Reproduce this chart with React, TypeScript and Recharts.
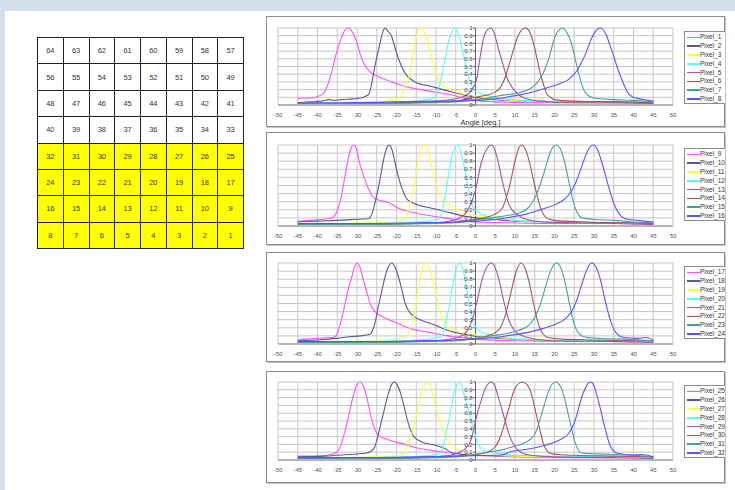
import { CartesianGrid, Line, LineChart, ReferenceDot, ReferenceLine, XAxis, YAxis } from 'recharts';

type Pt = [number, number];

const xTicks = [-50, -45, -40, -35, -30, -25, -20, -15, -10, -5, 0, 5, 10, 15, 20, 25, 30, 35, 40, 45, 50];
const yTicks = [0, 0.1, 0.2, 0.3, 0.4, 0.5, 0.6, 0.7, 0.8, 0.9, 1];
const yTickLabels = ['0', '0.1', '0.2', '0.3', '0.4', '0.5', '0.6', '0.7', '0.8', '0.9', '1'];

// excel-ish series colours, a bit lighter since the source lines are blurred
const seriesColors = ['#ff50ff', '#58589c', '#ffff38', '#50ffff', '#a850a8', '#a85454', '#44a0a0', '#5656ff'];

const gridRows = [
  [64, 63, 62, 61, 60, 59, 58, 57],
  [56, 55, 54, 53, 52, 51, 50, 49],
  [48, 47, 46, 45, 44, 43, 42, 41],
  [40, 39, 38, 37, 36, 35, 34, 33],
  [32, 31, 30, 29, 28, 27, 26, 25],
  [24, 23, 22, 21, 20, 19, 18, 17],
  [16, 15, 14, 13, 12, 11, 10, 9],
  [8, 7, 6, 5, 4, 3, 2, 1],
];

// ---- panel 1 : Pixel_1 .. Pixel_8
const p1: Pt[] = [[-45, 0.08], [-44, 0.09], [-42, 0.09], [-40, 0.11], [-38.5, 0.15], [-37.5, 0.25], [-36.4, 0.43], [-35.3, 0.66], [-34.3, 0.82], [-33.2, 0.96], [-32.2, 1], [-31.2, 0.95], [-30.1, 0.82], [-28.8, 0.6], [-27.1, 0.45], [-24.6, 0.37], [-21.2, 0.3], [-17.8, 0.24], [-12.8, 0.19], [-6, 0.13], [-1, 0.065], [5, 0.04], [15, 0.03], [30, 0.03], [45, 0.02]];
const p2: Pt[] = [[-45, 0.03], [-42, 0.04], [-39, 0.05], [-37, 0.07], [-36, 0.06], [-34, 0.07], [-31, 0.08], [-29, 0.09], [-28, 0.11], [-27, 0.14], [-26.2, 0.3], [-25.4, 0.52], [-24.1, 0.82], [-23.4, 0.96], [-22.9, 1], [-22.2, 0.96], [-21.3, 0.9], [-20.4, 0.75], [-19.5, 0.6], [-17.8, 0.41], [-15.3, 0.3], [-11.1, 0.24], [-6, 0.17], [-1, 0.11], [3, 0.08], [8, 0.06], [15, 0.05], [25, 0.04], [35, 0.04], [45, 0.03]];
const p3: Pt[] = [[-45, 0.02], [-35, 0.03], [-28, 0.04], [-23, 0.05], [-20, 0.07], [-18.7, 0.13], [-17.8, 0.24], [-17, 0.34], [-16, 0.58], [-15.3, 0.82], [-14.5, 0.96], [-13.9, 1], [-13.2, 0.97], [-12.4, 0.9], [-11.5, 0.7], [-10.7, 0.52], [-9.8, 0.38], [-9.1, 0.3], [-7.5, 0.23], [-6, 0.19], [-2.7, 0.14], [0.7, 0.11], [5, 0.08], [10, 0.06], [20, 0.04], [30, 0.03], [45, 0.03]];
const p4: Pt[] = [[-45, 0.02], [-30, 0.03], [-20, 0.04], [-15, 0.05], [-12, 0.07], [-10.3, 0.1], [-9.3, 0.22], [-8.2, 0.47], [-7.4, 0.68], [-6.6, 0.86], [-5.8, 0.97], [-5.1, 1], [-4.4, 0.93], [-3.6, 0.78], [-2.8, 0.6], [-1.9, 0.39], [-1, 0.26], [-0.3, 0.19], [1, 0.16], [2.2, 0.14], [5, 0.1], [8, 0.08], [12, 0.06], [20, 0.04], [30, 0.03], [45, 0.03]];
const p5: Pt[] = [[-45, 0.02], [-30, 0.02], [-20, 0.03], [-12, 0.04], [-8, 0.06], [-5, 0.08], [-3.1, 0.11], [-1, 0.19], [0.3, 0.34], [1.1, 0.6], [2, 0.86], [2.9, 0.97], [3.8, 1], [4.7, 0.94], [5.8, 0.73], [7, 0.52], [7.9, 0.36], [8.7, 0.28], [10, 0.18], [11.5, 0.11], [13, 0.08], [16, 0.05], [25, 0.03], [35, 0.03], [45, 0.02]];
const p6: Pt[] = [[-45, 0.02], [-30, 0.02], [-15, 0.03], [-8, 0.04], [-4, 0.06], [-1, 0.09], [1, 0.11], [3, 0.13], [5, 0.17], [6.2, 0.22], [7.5, 0.36], [8.5, 0.52], [9.5, 0.7], [10.5, 0.86], [11.6, 0.97], [12.7, 1], [13.7, 0.95], [14.6, 0.82], [15.5, 0.62], [16.3, 0.43], [17.2, 0.27], [18, 0.15], [19, 0.1], [20, 0.07], [25, 0.05], [35, 0.04], [45, 0.03]];
const p7: Pt[] = [[-45, 0.02], [-25, 0.02], [-10, 0.03], [-3, 0.05], [0, 0.07], [3, 0.09], [6, 0.12], [8.7, 0.14], [11, 0.16], [13, 0.19], [15.5, 0.28], [17, 0.4], [18, 0.52], [19, 0.68], [19.7, 0.82], [20.9, 0.96], [22.1, 1], [23, 0.95], [23.9, 0.86], [24.8, 0.7], [25.6, 0.52], [26.6, 0.32], [27.7, 0.17], [29, 0.11], [30, 0.09], [35, 0.07], [40, 0.06], [45, 0.04]];
const p8: Pt[] = [[-45, 0.03], [-35, 0.03], [-20, 0.04], [-10, 0.05], [0, 0.06], [5, 0.08], [8.7, 0.11], [13, 0.15], [17.2, 0.21], [21.4, 0.28], [23.5, 0.33], [24.8, 0.39], [26, 0.47], [26.9, 0.56], [28, 0.68], [29, 0.82], [30.3, 0.95], [31.6, 1], [33.2, 0.9], [34, 0.78], [34.9, 0.65], [35.8, 0.5], [36.6, 0.39], [37.7, 0.25], [38.7, 0.15], [40, 0.1], [41, 0.086], [43.3, 0.065], [45, 0.05]];

// ---- panel 2 : Pixel_9 .. Pixel_16
const p9: Pt[] = [[-45, 0.06], [-42, 0.07], [-39, 0.08], [-36.6, 0.095], [-35.5, 0.14], [-34.9, 0.2], [-34, 0.36], [-33.2, 0.57], [-32.5, 0.76], [-31.9, 0.9], [-31.3, 0.98], [-30.8, 1], [-30.2, 0.96], [-29.3, 0.77], [-28, 0.57], [-27, 0.45], [-26.3, 0.38], [-24.6, 0.32], [-22, 0.29], [-19.5, 0.22], [-15.2, 0.16], [-9.2, 0.11], [-4.1, 0.074], [0, 0.05], [8, 0.04], [20, 0.03], [35, 0.03], [45, 0.02]];
const p10: Pt[] = [[-45, 0.05], [-40, 0.06], [-35, 0.07], [-31, 0.08], [-27, 0.09], [-26.5, 0.12], [-25.9, 0.2], [-25, 0.38], [-24.2, 0.57], [-23.5, 0.76], [-22.9, 0.9], [-22.3, 0.98], [-21.8, 1], [-21.2, 0.95], [-20.5, 0.81], [-19.7, 0.64], [-18.8, 0.49], [-17.1, 0.32], [-14.5, 0.26], [-11.1, 0.22], [-7.7, 0.18], [-2.6, 0.12], [0, 0.1], [5, 0.08], [10, 0.06], [20, 0.05], [35, 0.04], [45, 0.03]];
const p11: Pt[] = [[-45, 0.03], [-35, 0.03], [-25, 0.04], [-20, 0.05], [-18, 0.09], [-17.1, 0.18], [-16.3, 0.33], [-15.6, 0.49], [-14.5, 0.81], [-13.6, 0.97], [-12.8, 1], [-12.1, 0.95], [-11.4, 0.81], [-10.1, 0.53], [-8.8, 0.36], [-6.7, 0.26], [-4.1, 0.19], [-0.7, 0.14], [5, 0.1], [10, 0.07], [20, 0.05], [30, 0.04], [45, 0.03]];
const p12: Pt[] = [[-45, 0.02], [-30, 0.03], [-20, 0.04], [-12, 0.06], [-9.2, 0.09], [-8.4, 0.2], [-7.7, 0.36], [-6.5, 0.73], [-5.4, 0.96], [-4.5, 1], [-3.9, 0.95], [-3.2, 0.81], [-1.9, 0.49], [-0.7, 0.24], [1, 0.16], [3, 0.12], [6, 0.1], [10, 0.07], [20, 0.05], [30, 0.04], [45, 0.03]];
const p13: Pt[] = [[-45, 0.02], [-30, 0.02], [-15, 0.03], [-8, 0.05], [-4, 0.1], [-1.9, 0.2], [0, 0.44], [1.3, 0.75], [3, 0.96], [4, 1], [4.8, 0.95], [5.5, 0.84], [6.8, 0.55], [8.5, 0.26], [10.6, 0.14], [13, 0.08], [17, 0.05], [25, 0.04], [35, 0.03], [45, 0.02]];
const p14: Pt[] = [[-45, 0.02], [-30, 0.02], [-15, 0.03], [-5, 0.05], [0, 0.08], [3, 0.11], [5, 0.15], [6.8, 0.22], [8.5, 0.47], [10.2, 0.84], [11, 0.97], [11.7, 1], [12.5, 0.96], [13.5, 0.82], [15, 0.5], [16.5, 0.22], [18, 0.1], [20, 0.07], [28, 0.05], [38, 0.04], [45, 0.03]];
const p15: Pt[] = [[-45, 0.02], [-25, 0.02], [-10, 0.03], [-3, 0.05], [0, 0.07], [4, 0.1], [8, 0.13], [11, 0.16], [13, 0.21], [14.5, 0.3], [16, 0.46], [17.5, 0.68], [18.7, 0.88], [19.7, 0.98], [20.5, 1], [21.4, 0.96], [22.4, 0.82], [23.5, 0.58], [24.6, 0.33], [25.8, 0.16], [27, 0.1], [30, 0.08], [35, 0.07], [40, 0.05], [45, 0.04]];
const p16: Pt[] = [[-45, 0.03], [-30, 0.03], [-15, 0.04], [-5, 0.05], [0, 0.06], [5, 0.08], [9, 0.11], [13, 0.15], [17, 0.21], [20.5, 0.27], [22.5, 0.33], [24, 0.41], [25.5, 0.55], [27, 0.75], [28.3, 0.92], [29.8, 1], [31, 0.93], [32.2, 0.75], [33.5, 0.52], [35, 0.28], [36.5, 0.14], [38, 0.09], [41, 0.07], [45, 0.05]];

// ---- panel 3 : Pixel_17 .. Pixel_24
const p17: Pt[] = [[-45, 0.05], [-40.2, 0.07], [-36, 0.08], [-35.2, 0.11], [-34.7, 0.17], [-33.8, 0.33], [-33, 0.5], [-32.2, 0.68], [-31.3, 0.83], [-30.6, 0.96], [-30, 1], [-29.3, 0.96], [-28.4, 0.79], [-27.5, 0.64], [-26.7, 0.5], [-25, 0.38], [-23.3, 0.33], [-19.9, 0.26], [-16.5, 0.19], [-12.3, 0.15], [-8.1, 0.11], [-4, 0.08], [0, 0.06], [10, 0.04], [25, 0.03], [45, 0.03]];
const p18: Pt[] = [[-45, 0.04], [-40, 0.05], [-35, 0.07], [-31.8, 0.09], [-29.2, 0.1], [-26.7, 0.12], [-25.5, 0.25], [-24.6, 0.46], [-23.7, 0.66], [-22.9, 0.83], [-22, 0.96], [-21.2, 1], [-20.4, 0.95], [-19.5, 0.83], [-18.6, 0.66], [-17.8, 0.5], [-16.1, 0.36], [-14, 0.3], [-10.6, 0.24], [-7.2, 0.17], [-3, 0.12], [0, 0.1], [6, 0.07], [15, 0.05], [30, 0.04], [45, 0.03]];
const p19: Pt[] = [[-45, 0.03], [-35, 0.03], [-25, 0.04], [-20, 0.06], [-17.4, 0.09], [-16.5, 0.19], [-15.7, 0.33], [-14.4, 0.71], [-13.4, 0.94], [-12.5, 1], [-11.8, 0.95], [-11, 0.83], [-10.1, 0.64], [-9.3, 0.46], [-8.2, 0.3], [-7.2, 0.21], [-3, 0.14], [0, 0.11], [5, 0.08], [12, 0.06], [25, 0.04], [45, 0.03]];
const p20: Pt[] = [[-45, 0.02], [-30, 0.03], [-18, 0.04], [-12, 0.06], [-9, 0.09], [-8, 0.17], [-7, 0.38], [-6, 0.66], [-5, 0.91], [-4, 1], [-3.3, 0.94], [-2.5, 0.76], [-1.6, 0.5], [-0.6, 0.28], [0.5, 0.18], [2.5, 0.13], [5, 0.1], [9, 0.07], [18, 0.05], [30, 0.04], [45, 0.03]];
const p21: Pt[] = [[-45, 0.02], [-30, 0.02], [-15, 0.03], [-8, 0.05], [-4, 0.09], [-2, 0.17], [-0.8, 0.3], [0.5, 0.55], [1.7, 0.8], [3, 0.96], [4, 1], [4.9, 0.95], [6, 0.78], [7.2, 0.52], [8.4, 0.3], [9.8, 0.17], [11.5, 0.11], [14, 0.07], [20, 0.04], [35, 0.03], [45, 0.02]];
const p22: Pt[] = [[-45, 0.02], [-30, 0.02], [-15, 0.03], [-5, 0.05], [0, 0.07], [3, 0.1], [5, 0.14], [6.5, 0.22], [7.8, 0.4], [9, 0.64], [10.2, 0.88], [11.5, 1], [12.6, 0.93], [13.6, 0.76], [14.7, 0.5], [15.8, 0.27], [17, 0.13], [18.5, 0.08], [22, 0.06], [30, 0.05], [40, 0.04], [45, 0.04]];
const p23: Pt[] = [[-45, 0.02], [-25, 0.02], [-10, 0.03], [-3, 0.05], [0, 0.07], [4, 0.1], [8, 0.13], [11, 0.17], [13.5, 0.23], [15, 0.33], [16.5, 0.5], [17.8, 0.72], [19, 0.9], [20.5, 1], [21.6, 0.94], [22.6, 0.78], [23.7, 0.52], [24.8, 0.28], [26, 0.14], [27.5, 0.09], [31, 0.07], [37, 0.06], [42, 0.05], [45, 0.04]];
const p24: Pt[] = [[-45, 0.03], [-30, 0.03], [-15, 0.04], [-5, 0.05], [0, 0.06], [5, 0.08], [9, 0.11], [13, 0.14], [17, 0.19], [20.5, 0.25], [22.7, 0.31], [24.3, 0.4], [25.7, 0.55], [27, 0.75], [28.3, 0.93], [29.5, 1], [30.6, 0.94], [31.8, 0.76], [33, 0.5], [34.3, 0.27], [35.7, 0.13], [37.5, 0.08], [41, 0.07], [43, 0.08], [45, 0.05]];

// ---- panel 4 : Pixel_25 .. Pixel_32
const p25: Pt[] = [[-45, 0.05], [-40.8, 0.05], [-36.6, 0.07], [-34.9, 0.11], [-34, 0.2], [-33.2, 0.34], [-32.3, 0.52], [-31.4, 0.73], [-30.4, 0.92], [-29.2, 1], [-28.4, 0.95], [-27.6, 0.82], [-26.9, 0.66], [-26.3, 0.52], [-24.6, 0.32], [-22.1, 0.26], [-18.6, 0.21], [-15.2, 0.16], [-10.9, 0.12], [-5.8, 0.09], [0, 0.06], [10, 0.04], [25, 0.03], [45, 0.03]];
const p26: Pt[] = [[-45, 0.04], [-38, 0.05], [-32.3, 0.07], [-28, 0.086], [-26.5, 0.11], [-25.5, 0.17], [-24.6, 0.33], [-23.7, 0.52], [-22, 0.86], [-21.2, 0.97], [-20.5, 1], [-19.8, 0.96], [-19, 0.86], [-18.1, 0.69], [-17.3, 0.52], [-15.6, 0.3], [-13.1, 0.22], [-10.1, 0.19], [-7.9, 0.15], [-5.8, 0.09], [0, 0.06], [10, 0.05], [25, 0.04], [45, 0.03]];
const p27: Pt[] = [[-45, 0.03], [-35, 0.03], [-25, 0.04], [-20.5, 0.05], [-18.6, 0.065], [-17.7, 0.12], [-16.9, 0.21], [-15.2, 0.52], [-13.7, 0.86], [-12.9, 0.97], [-12.2, 1], [-11.4, 0.95], [-10.5, 0.77], [-8.8, 0.47], [-7.1, 0.26], [-4.9, 0.15], [-2.4, 0.086], [0, 0.07], [10, 0.05], [25, 0.04], [45, 0.03]];
const p28: Pt[] = [[-45, 0.02], [-30, 0.03], [-18, 0.04], [-11, 0.06], [-9.3, 0.08], [-8.4, 0.13], [-7.6, 0.3], [-6.7, 0.52], [-5.4, 0.86], [-4.7, 0.97], [-4.1, 1], [-3.5, 0.95], [-2.8, 0.82], [-1.1, 0.52], [0.6, 0.21], [1.6, 0.14], [2.7, 0.11], [5, 0.09], [10, 0.06], [20, 0.05], [35, 0.04], [45, 0.03]];
const p29: Pt[] = [[-45, 0.02], [-30, 0.02], [-15, 0.03], [-8, 0.05], [-4, 0.1], [-2.5, 0.15], [-1.5, 0.21], [-0.7, 0.34], [0, 0.5], [1, 0.69], [2.7, 0.94], [4, 1], [4.9, 0.95], [5.7, 0.82], [7.4, 0.52], [8.7, 0.3], [10, 0.17], [11.5, 0.1], [14, 0.06], [20, 0.04], [35, 0.03], [45, 0.02]];
const p30: Pt[] = [[-45, 0.02], [-30, 0.02], [-15, 0.03], [-5, 0.05], [0, 0.07], [3, 0.1], [5, 0.17], [6.6, 0.34], [8.3, 0.64], [10, 0.92], [11.9, 1], [13, 0.97], [13.8, 0.9], [15.5, 0.56], [17.2, 0.21], [18.9, 0.086], [21, 0.07], [25, 0.06], [35, 0.05], [45, 0.04]];
const p31: Pt[] = [[-45, 0.02], [-25, 0.02], [-10, 0.03], [-3, 0.05], [0, 0.07], [3, 0.1], [6.6, 0.13], [10, 0.18], [12.5, 0.22], [15.1, 0.34], [16.8, 0.6], [18.5, 0.88], [19.5, 0.98], [20.4, 1], [21.2, 0.97], [21.9, 0.9], [23.6, 0.56], [25.3, 0.21], [27, 0.086], [30, 0.08], [35, 0.07], [40, 0.06], [45, 0.04]];
const p32: Pt[] = [[-45, 0.03], [-30, 0.03], [-15, 0.04], [-5, 0.05], [0, 0.055], [6.6, 0.065], [9.1, 0.11], [13.4, 0.14], [17.6, 0.19], [21, 0.25], [23.6, 0.34], [25.3, 0.52], [27, 0.82], [28.2, 0.96], [29.1, 1], [29.9, 0.96], [30.8, 0.82], [32.5, 0.47], [34.2, 0.17], [35.9, 0.086], [39.7, 0.065], [42, 0.07], [45, 0.04]];

const names1 = ['Pixel_1', 'Pixel_2', 'Pixel_3', 'Pixel_4', 'Pixel_5', 'Pixel_6', 'Pixel_7', 'Pixel_8'];
const names2 = ['Pixel_9', 'Pixel_10', 'Pixel_11', 'Pixel_12', 'Pixel_13', 'Pixel_14', 'Pixel_15', 'Pixel_16'];
const names3 = ['Pixel_17', 'Pixel_18', 'Pixel_19', 'Pixel_20', 'Pixel_21', 'Pixel_22', 'Pixel_23', 'Pixel_24'];
const names4 = ['Pixel_25', 'Pixel_26', 'Pixel_27', 'Pixel_28', 'Pixel_29', 'Pixel_30', 'Pixel_31', 'Pixel_32'];

const font = '"Liberation Sans", Arial, sans-serif';
const panelLeft = 266;
const panelWidth = 459;

const toRows = (pts: Pt[]) => pts.map(([x, y]) => ({ x, y }));

interface PanelProps {
  top: number;
  height: number;
  plotTop: number;
  plotBottom: number;
  series: Pt[][];
  names: string[];
  axisLabel?: string;
}

function Panel({ top, height, plotTop, plotBottom, series, names, axisLabel }: PanelProps) {
  const axisHeight = axisLabel ? 20 : 12;
  const margin = {
    top: plotTop - top,
    right: 52,
    left: 12,
    bottom: top + height - plotBottom - axisHeight,
  };

  return (
    <>
      {/* frame */}
      <div
        style={{
          position: 'absolute',
          left: panelLeft,
          top,
          width: panelWidth,
          height,
          boxSizing: 'border-box',
          border: '1px solid #8c8c8c',
          boxShadow: '1px 1px 0 #c4c4c4',
          background: '#fff',
        }}
      />
      <div style={{ position: 'absolute', left: panelLeft, top }}>
        <LineChart width={panelWidth} height={height} margin={margin}>
          <CartesianGrid stroke="#c6c6c6" strokeWidth={1} horizontalValues={yTicks} verticalValues={xTicks} />
          <XAxis
            dataKey="x"
            type="number"
            domain={[-50, 50]}
            ticks={xTicks}
            interval={0}
            height={axisHeight}
            tickLine={false}
            axisLine={{ stroke: '#8a8a8a' }}
            tick={{ fontSize: 6, fill: '#555' }}
            label={
              axisLabel
                ? { value: axisLabel, position: 'insideBottom', offset: 0, dx: 5, fontSize: 7.5, fill: '#333' }
                : undefined
            }
          />
          <YAxis
            type="number"
            domain={[0, 1]}
            ticks={yTicks}
            interval={0}
            width={0}
            tick={() => <g />}
            tickLine={false}
            axisLine={false}
          />
          {/* value axis sits at angle 0 */}
          <ReferenceLine x={0} stroke="#666" strokeWidth={1} />
          {yTicks.map((v) => (
            <ReferenceLine
              key={`t-${v}`}
              segment={[
                { x: -0.6, y: v },
                { x: 0, y: v },
              ]}
              stroke="#666"
            />
          ))}
          {yTicks.map((v, i) => (
            <ReferenceDot
              key={`l-${v}`}
              x={0}
              y={v}
              r={0}
              fill="none"
              stroke="none"
              label={{ value: yTickLabels[i], position: 'left', offset: 3, fontSize: 6, fill: '#444' }}
            />
          ))}
          {series.map((pts, i) => (
            <Line
              key={names[i]}
              name={names[i]}
              data={toRows(pts)}
              dataKey="y"
              type="monotone"
              stroke={seriesColors[i]}
              strokeWidth={1.1}
              dot={false}
              isAnimationActive={false}
            />
          ))}
        </LineChart>
      </div>
      {/* legend box */}
      <div
        style={{
          position: 'absolute',
          left: 684,
          top: plotTop + 3,
          width: 41,
          height: 73,
          boxSizing: 'border-box',
          border: '1px solid #8c8c8c',
          borderRight: 'none',
          background: '#fff',
          paddingTop: 1,
        }}
      >
        {names.map((n, i) => (
          <div key={n} style={{ display: 'flex', alignItems: 'center', height: 8.8, whiteSpace: 'nowrap' }}>
            <span style={{ flex: 'none', display: 'inline-block', width: 13, height: 1.5, background: seriesColors[i], marginLeft: 2 }} />
            <span style={{ flex: 'none', fontSize: 6.5, color: '#333', lineHeight: '8px', fontFamily: font }}>{n}</span>
          </div>
        ))}
      </div>
    </>
  );
}

export default function App() {
  return (
    <div
      style={{
        position: 'absolute',
        left: 0,
        top: 0,
        width: 735,
        height: 490,
        overflow: 'hidden',
        background: '#d3dee8',
        fontFamily: font,
      }}
    >
      <div style={{ position: 'absolute', left: 5, top: 11, width: 730, height: 479, background: '#fff' }} />

      {/* pixel map */}
      <table
        style={{
          position: 'absolute',
          left: 37,
          top: 37,
          width: 207,
          height: 212,
          borderCollapse: 'collapse',
          tableLayout: 'fixed',
        }}
      >
        <tbody>
          {gridRows.map((row, r) => (
            <tr key={r}>
              {row.map((v) => (
                <td
                  key={v}
                  style={{
                    border: '1px solid #222',
                    background: r >= 4 ? '#ffff00' : '#fff',
                    textAlign: 'center',
                    fontSize: 7.5,
                    color: '#333',
                    padding: 0,
                  }}
                >
                  {v}
                </td>
              ))}
            </tr>
          ))}
        </tbody>
      </table>

      <Panel top={16} height={111} plotTop={28} plotBottom={105} series={[p1, p2, p3, p4, p5, p6, p7, p8]} names={names1} axisLabel="Angle [deg.]" />
      <Panel top={132} height={113} plotTop={145} plotBottom={226} series={[p9, p10, p11, p12, p13, p14, p15, p16]} names={names2} />
      <Panel top={252} height={110} plotTop={263} plotBottom={344} series={[p17, p18, p19, p20, p21, p22, p23, p24]} names={names3} />
      <Panel top={371} height={112} plotTop={382} plotBottom={460} series={[p25, p26, p27, p28, p29, p30, p31, p32]} names={names4} />
    </div>
  );
}
